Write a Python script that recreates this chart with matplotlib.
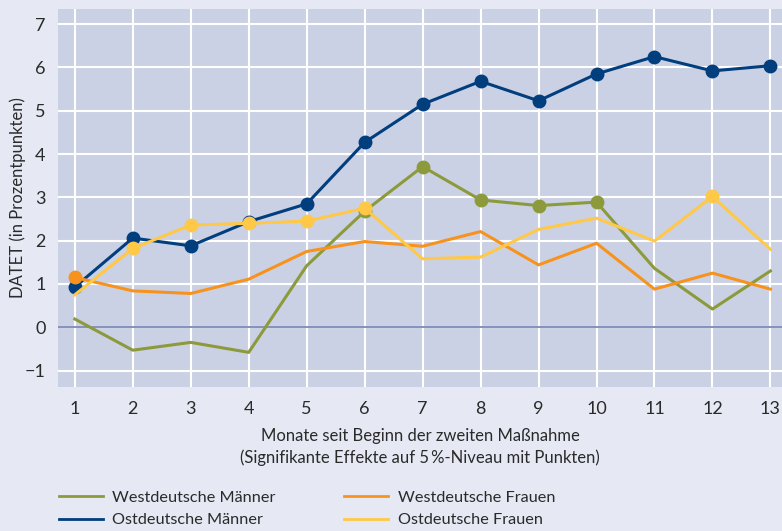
import numpy as np
import matplotlib
matplotlib.use("Agg")
import matplotlib.pyplot as plt
from matplotlib.lines import Line2D

plt.rcParams["font.family"] = ["Lato", "DejaVu Sans"]

monate = np.arange(1, 14)

# DATET-Werte je Gruppe (in Prozentpunkten)
west_maenner = [0.19, -0.53, -0.35, -0.58, 1.42, 2.68, 3.71, 2.94, 2.81, 2.89, 1.36, 0.42, 1.30]
ost_maenner = [0.93, 2.06, 1.88, 2.44, 2.85, 4.27, 5.15, 5.68, 5.23, 5.85, 6.25, 5.92, 6.04]
west_frauen = [1.15, 0.84, 0.78, 1.11, 1.75, 1.98, 1.87, 2.21, 1.44, 1.94, 0.88, 1.25, 0.88]
ost_frauen = [0.75, 1.82, 2.36, 2.40, 2.45, 2.75, 1.58, 1.62, 2.26, 2.52, 1.99, 3.02, 1.80]

# signifikante Effekte (Monate mit Punkt)
sig_west_maenner = [6, 7, 8, 9, 10]
sig_ost_maenner = list(range(1, 14))
sig_west_frauen = [1]
sig_ost_frauen = [2, 3, 4, 5, 6, 12]

labels = ["Westdeutsche Männer", "Ostdeutsche Männer", "Westdeutsche Frauen", "Ostdeutsche Frauen"]
colors = ["#8C9A3C", "#003E7E", "#F7931D", "#FFC847"]

fig = plt.figure(figsize=(7.82, 5.31), dpi=100, facecolor="#E6E9F4")
ax = fig.add_axes([58 / 782, 1 - 387 / 531, 724 / 782, 378 / 531])
ax.set_facecolor("#CBD1E4")

series = [
    (west_maenner, sig_west_maenner),
    (ost_maenner, sig_ost_maenner),
    (west_frauen, sig_west_frauen),
    (ost_frauen, sig_ost_frauen),
]
# zeichnen in der Reihenfolge: Frauen West, Männer West, Frauen Ost, Männer Ost
order = [2, 0, 3, 1]
for i in order:
    vals, sig = series[i]
    ax.plot(monate, vals, color=colors[i], lw=2.2, zorder=3 + i * 0.1)
    idx = [m - 1 for m in sig]
    ax.plot(monate[idx], np.array(vals)[idx], "o", color=colors[i], ms=9, zorder=3 + i * 0.1)

ax.set_xlim(0.71, 13.2)
ax.set_ylim(-1.38, 7.35)
ax.set_xticks(monate)
ax.set_yticks(range(-1, 8))
ax.set_yticklabels(["\u22121"] + [str(v) for v in range(0, 8)])
ax.grid(True, color="white", lw=1.5, zorder=1)
ax.axhline(0, color="#6E7FAF", lw=1.2, zorder=2)
for s in ax.spines.values():
    s.set_visible(False)
ax.tick_params(length=0, labelsize=13, colors="#2A2A2A")
ax.tick_params(axis="x", pad=10)
ax.tick_params(axis="y", pad=9)

ax.set_xlabel("Monate seit Beginn der zweiten Maßnahme\n(Signifikante Effekte auf 5\u2009%-Niveau mit Punkten)",
              fontsize=12, color="#2A2A2A", labelpad=8, linespacing=1.4)
ax.set_ylabel("DATET (in Prozentpunkten)", fontsize=12, color="#2A2A2A", labelpad=-1)

handles = [Line2D([], [], color=c, lw=2) for c in colors]
fig.legend(handles, labels, ncol=2, loc="upper left", bbox_to_anchor=(44 / 782, 1 - 476 / 531),
           frameon=False, fontsize=11.7, handlelength=2.7, columnspacing=4.2,
           labelspacing=0.5, handletextpad=0.6, labelcolor="#2A2A2A")

fig.savefig("out.png", dpi=100, facecolor=fig.get_facecolor())
